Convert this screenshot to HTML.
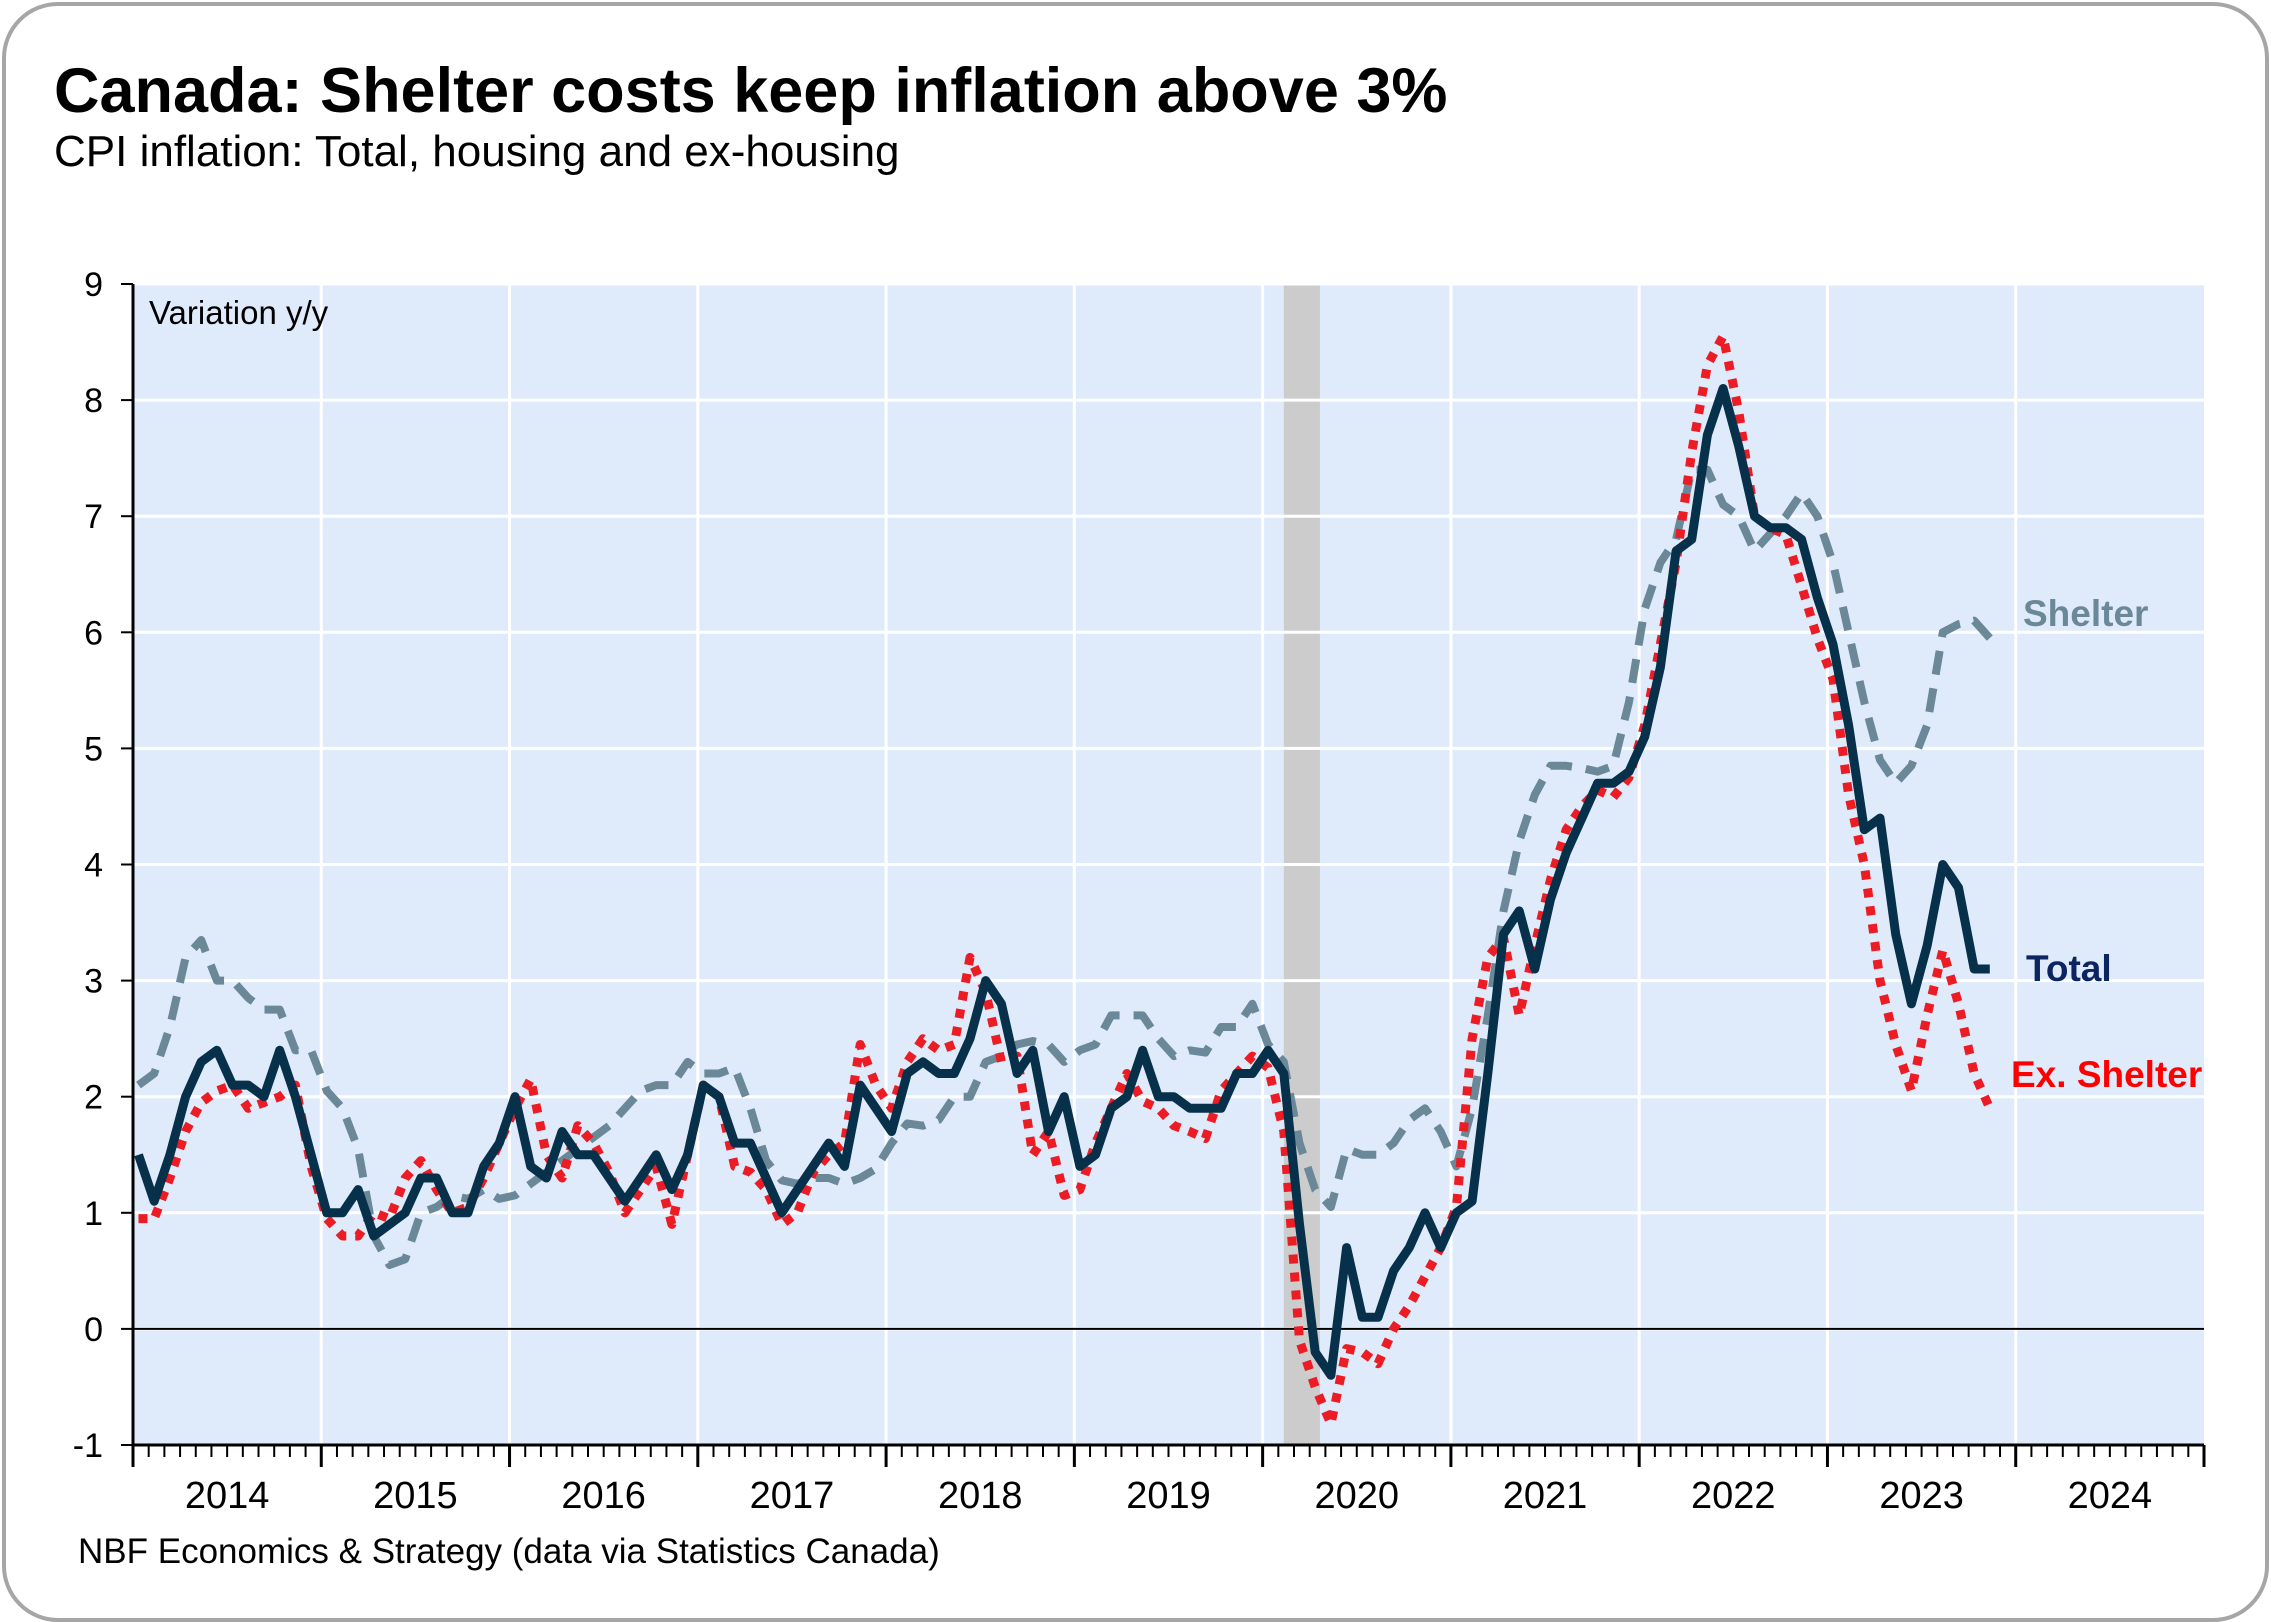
<!DOCTYPE html>
<html><head><meta charset="utf-8"><style>
html,body{margin:0;padding:0;background:#fff;}
body{width:2271px;height:1622px;overflow:hidden;font-family:"Liberation Sans",Arial,sans-serif;}
#card{position:absolute;left:2px;top:2px;width:2259px;height:1612px;border:4px solid #a6a6a6;border-radius:56px;background:#fff;}
</style></head><body>
<div id="card"></div>
<svg id="chart" width="2271" height="1622" style="position:absolute;left:0;top:0">
<text x="54" y="112" font-size="63" font-weight="bold" fill="#000">Canada: Shelter costs keep inflation above 3%</text>
<text x="54" y="166" font-size="44" fill="#000">CPI inflation: Total, housing and ex-housing</text>
<text x="78" y="1563" font-size="35" fill="#000">NBF Economics &amp; Strategy (data via Statistics Canada)</text>
</svg>
<script>
const years=["2014","2015","2016","2017","2018","2019","2020","2021","2022","2023","2024"];
const yTicks=[-1,0,1,2,3,4,5,6,7,8,9];
const total=[1.5,1.1,1.5,2.0,2.3,2.4,2.1,2.1,2.0,2.4,2.0,1.5,
1.0,1.0,1.2,0.8,0.9,1.0,1.3,1.3,1.0,1.0,1.4,1.6,
2.0,1.4,1.3,1.7,1.5,1.5,1.3,1.1,1.3,1.5,1.2,1.5,
2.1,2.0,1.6,1.6,1.3,1.0,1.2,1.4,1.6,1.4,2.1,1.9,
1.7,2.2,2.3,2.2,2.2,2.5,3.0,2.8,2.2,2.4,1.7,2.0,
1.4,1.5,1.9,2.0,2.4,2.0,2.0,1.9,1.9,1.9,2.2,2.2,
2.4,2.2,0.9,-0.2,-0.4,0.7,0.1,0.1,0.5,0.7,1.0,0.7,
1.0,1.1,2.2,3.4,3.6,3.1,3.7,4.1,4.4,4.7,4.7,4.8,
5.1,5.7,6.7,6.8,7.7,8.1,7.6,7.0,6.9,6.9,6.8,6.3,
5.9,5.2,4.3,4.4,3.4,2.8,3.3,4.0,3.8,3.1,3.1];
const shelter=[2.1,2.2,2.6,3.2,3.35,3.0,3.0,2.85,2.75,2.75,2.4,2.4,
2.05,1.9,1.55,0.8,0.55,0.6,1.0,1.05,1.15,1.12,1.2,1.12,
1.15,1.25,1.35,1.45,1.55,1.65,1.75,1.9,2.05,2.1,2.1,2.3,
2.2,2.2,2.25,1.9,1.45,1.28,1.25,1.3,1.3,1.25,1.3,1.38,
1.6,1.77,1.75,1.8,2.0,2.0,2.3,2.35,2.45,2.48,2.45,2.3,
2.4,2.45,2.7,2.7,2.7,2.5,2.35,2.4,2.38,2.6,2.6,2.8,
2.45,2.3,1.6,1.2,1.05,1.55,1.5,1.5,1.6,1.8,1.9,1.7,
1.4,1.9,2.7,3.6,4.2,4.6,4.85,4.85,4.83,4.8,4.85,5.4,
6.2,6.6,6.8,7.4,7.4,7.1,7.0,6.7,6.85,7.0,7.2,7.0,
6.6,6.0,5.4,4.9,4.7,4.85,5.2,6.0,6.07,6.1,5.95];
const exShelter=[0.95,0.95,1.3,1.7,1.95,2.05,2.1,1.9,1.95,2.0,2.1,1.4,
0.95,0.8,0.8,1.0,0.95,1.3,1.45,1.2,1.0,1.05,1.3,1.6,
1.9,2.15,1.5,1.3,1.75,1.6,1.35,1.0,1.2,1.4,0.9,1.5,
2.1,2.0,1.4,1.35,1.2,0.9,1.0,1.35,1.5,1.6,2.45,2.1,
1.9,2.3,2.5,2.4,2.45,3.2,2.9,2.3,2.35,1.5,1.7,1.15,
1.2,1.6,1.9,2.2,1.96,1.9,1.75,1.7,1.64,2.05,2.2,2.35,
2.25,1.7,-0.1,-0.5,-0.82,-0.17,-0.2,-0.3,0.0,0.2,0.45,0.7,
1.05,2.5,3.2,3.37,2.7,3.3,3.87,4.3,4.5,4.64,4.58,4.75,
5.2,5.9,6.6,7.55,8.3,8.55,7.9,7.0,6.9,6.84,6.4,5.95,
5.6,4.6,4.0,3.0,2.45,2.05,2.7,3.26,2.8,2.2,1.9];
const recession=[73,75.3];

const NS="http://www.w3.org/2000/svg";
const svg=document.getElementById('chart');
const L=133,R=2204,T=284,B=1445,YMIN=-1,YMAX=9;
const monthW=(R-L)/(years.length*12);
const OFF=0.35;
function xS(i){return L+i*monthW;}
function xD(i){return xS(i+OFF);}
function yS(v){return B-(v-YMIN)/(YMAX-YMIN)*(B-T);}
function mk(tag,attrs,parent){const e=document.createElementNS(NS,tag);for(const k in attrs)e.setAttribute(k,attrs[k]);(parent||svg).appendChild(e);return e;}

const bg=mk('rect',{x:L,y:T,width:R-L,height:B-T,fill:'#dfebfb'});



const rec=mk('rect',{x:xD(recession[0]),y:T,width:xD(recession[1])-xD(recession[0]),height:B-T,fill:'#cccccc'});



yTicks.forEach(v=>{
  if(v!==YMIN){const g=mk('line',{x1:L,x2:R,y1:yS(v),y2:yS(v),stroke:'#fff','stroke-width':3});
  
  }
  const t=mk('line',{x1:L-12,x2:L,y1:yS(v),y2:yS(v),stroke:'#000','stroke-width':2});
  
  
  const lb=mk('text',{x:L-30,y:yS(v)+12,'font-size':34,'text-anchor':'end',fill:'#000'});
  lb.textContent=String(v);
  
  
});
years.forEach((y,k)=>{
  const x=xS(k*12);
  if(k>0){const g=mk('line',{x1:x,x2:x,y1:T,y2:B,stroke:'#fff','stroke-width':3});
  
  }
  const lb=mk('text',{x:xS(k*12+6),y:1508,'font-size':38,'text-anchor':'middle',fill:'#000'});
  lb.textContent=y;
  
  
});
for(let i=0;i<=years.length*12;i++){
  const major=i%12===0;
  const t=mk('line',{x1:xS(i),x2:xS(i),y1:B,y2:B+(major?22:12),stroke:'#000','stroke-width':major?3:2});
  
  
}
const zero=mk('line',{x1:L,x2:R,y1:yS(0),y2:yS(0),stroke:'#000','stroke-width':2});


const ax=mk('line',{x1:L,x2:L,y1:T,y2:B,stroke:'#000','stroke-width':3});


const bx=mk('line',{x1:L,x2:R,y1:B,y2:B,stroke:'#000','stroke-width':3});



function path(arr){return arr.map((v,i)=>(i?'L':'M')+xD(i).toFixed(1)+','+yS(v).toFixed(1)).join(' ');}
const ps=mk('path',{d:path(shelter),fill:'none',stroke:'#6b8898','stroke-width':8,'stroke-dasharray':'24 14','stroke-linejoin':'round'});


const pe=mk('path',{d:path(exShelter),fill:'none',stroke:'#ec1c24','stroke-width':9,'stroke-dasharray':'9 9','stroke-linejoin':'round'});


const pt=mk('path',{d:path(total),fill:'none',stroke:'#07304a','stroke-width':9,'stroke-linejoin':'round'});



const vl=mk('text',{x:149,y:324,'font-size':33,fill:'#000'});
vl.textContent='Variation y/y';


const l1=mk('text',{x:2023,y:626,'font-size':37,'font-weight':'bold',fill:'#6b8898'});
l1.textContent='Shelter';


const l2=mk('text',{x:2026,y:981,'font-size':37,'font-weight':'bold',fill:'#0c2461'});
l2.textContent='Total';


const l3=mk('text',{x:2011,y:1087,'font-size':37,'font-weight':'bold',fill:'#ff0000'});
l3.textContent='Ex. Shelter';


</script>
</body></html>
